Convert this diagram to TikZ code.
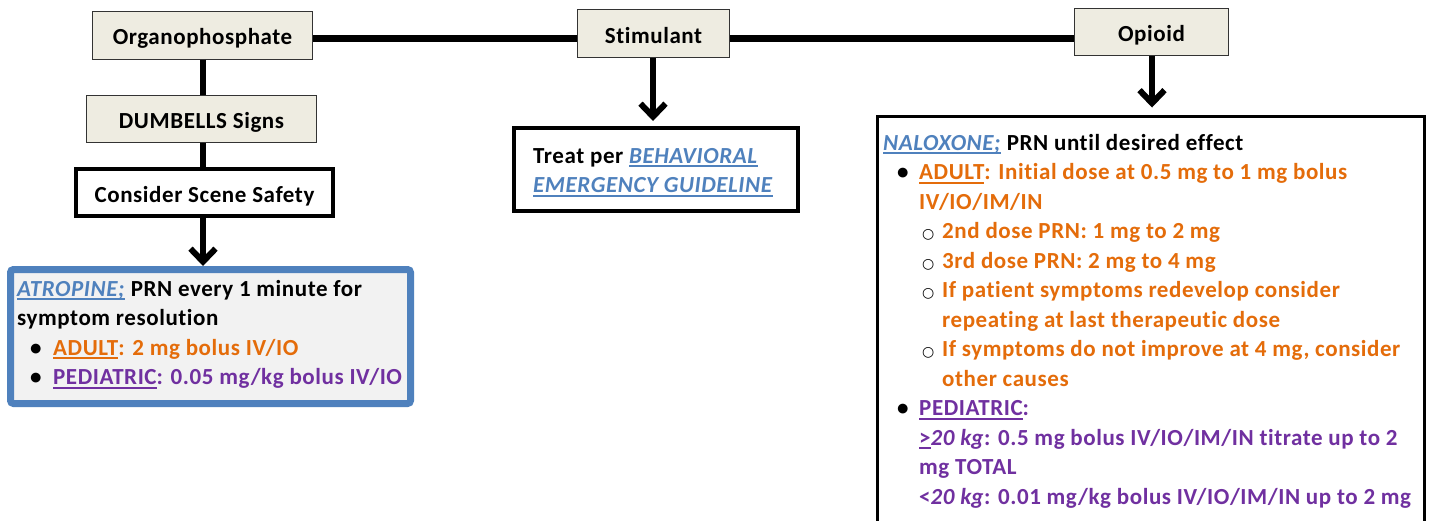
\documentclass[tikz,border=0pt]{standalone}
\usepackage{fontspec}
\setmainfont{Carlito}[LetterSpace=2.5,Ligatures=CommonOff]
\newfontfamily\shapefont{DejaVu Sans}
\usetikzlibrary{arrows.meta,calc}

\definecolor{linkblue}{HTML}{4F81BD}
\definecolor{doseorange}{HTML}{E46C0A}
\definecolor{pedpurple}{HTML}{7030A0}
\definecolor{headfill}{HTML}{EEECE1}
\definecolor{panelfill}{HTML}{F2F2F2}

% underline drawn as a rule under the measured text
\newsavebox{\ulbox}
\newcommand{\uln}[1]{\sbox{\ulbox}{#1}\rlap{\rule[-3.8pt]{\wd\ulbox}{1.7pt}}\usebox{\ulbox}}
\newcommand{\lnk}[1]{\textcolor{linkblue}{\uln{\textit{#1}}}}
\newcommand{\fbul}[1]{\makebox[#1][l]{\textbullet}}
\newcommand{\hbul}{\makebox[20pt][l]{\textcolor{black}{\shapefont\mdseries\fontsize{14}{14}\selectfont ○}}}
\newcommand{\firstline}{\rule{0pt}{20pt}}

\begin{document}
\begin{tikzpicture}[x=1pt,y=-1pt,
  font=\bfseries\fontsize{23}{29.5}\selectfont,
  headbox/.style={draw=black!80,line width=1pt,fill=headfill,inner sep=0pt,
    text height=19pt,text depth=0pt,font=\bfseries\fontsize{23}{29.5}\selectfont},
  stepbox/.style={draw=black,line width=4pt,fill=white,inner sep=0pt},
  conn/.style={line width=6pt},
  arr/.style={line width=6pt,-{Straight Barb[length=13pt,width=25pt,line width=6pt]}},
  bodytext/.style={anchor=north west,align=left,inner sep=0pt}
]
\useasboundingbox (0,0) rectangle (1431,520);
\fill[white] (0,0) rectangle (1431,520);
\clip (0,0) rectangle (1431,520);

% header boxes
\node[headbox,minimum width=220pt,minimum height=48pt] (org) at (202.5,35) {Organophosphate};
\node[headbox,minimum width=152pt,minimum height=48pt] (stim) at (653.5,33.5) {Stimulant};
\node[headbox,minimum width=154pt,minimum height=47pt] (opi) at (1151.5,32) {Opioid};

% organophosphate branch
\node[headbox,minimum width=230pt,minimum height=47pt] (dum) at (201.5,119) {DUMBELLS Signs};
\node[stepbox,minimum width=257pt,minimum height=47pt,text height=19pt,text depth=0pt] (safe) at (204.5,192.5) {Consider Scene Safety};

\node[draw=linkblue,line width=7pt,fill=panelfill,rounded corners=3pt,inner sep=0pt,
  minimum width=400pt,minimum height=134pt] (atro) at (210.5,336.5) {};
\node[bodytext] (atrotext) at (17,276) {%
\firstline\lnk{ATROPINE;} PRN every 1 minute for\\
symptom resolution\\
\hspace*{13pt}\fbul{23pt}\textcolor{doseorange}{\uln{ADULT}: 2 mg bolus IV/IO}\\
\hspace*{13pt}\fbul{23pt}\textcolor{pedpurple}{\uln{PEDIATRIC}: 0.05 mg/kg bolus IV/IO}};

% stimulant branch
\node[stepbox,minimum width=284pt,minimum height=83pt] (beh) at (656,169.5) {};
\node[bodytext] (behtext) at (533,143) {%
\firstline Treat per \lnk{BEHAVIORAL}\\
\lnk{EMERGENCY GUIDELINE}};

% opioid branch
\node[stepbox,line width=3.5pt,minimum width=547pt,minimum height=420pt,anchor=north] (nal) at (1151,114.5) {};
\node[bodytext] (naltext) at (883,130) {%
\firstline\lnk{NALOXONE;} PRN until desired effect\\
\hspace*{14pt}\fbul{22pt}\textcolor{doseorange}{\uln{ADULT}: Initial dose at 0.5 mg to 1 mg bolus}\\
\hspace*{36pt}\textcolor{doseorange}{IV/IO/IM/IN}\\
\hspace*{39pt}\hbul\textcolor{doseorange}{2nd dose PRN: 1 mg to 2 mg}\\
\hspace*{39pt}\hbul\textcolor{doseorange}{3rd dose PRN: 2 mg to 4 mg}\\
\hspace*{39pt}\hbul\textcolor{doseorange}{If patient symptoms redevelop consider}\\
\hspace*{59pt}\textcolor{doseorange}{repeating at last therapeutic dose}\\
\hspace*{39pt}\hbul\textcolor{doseorange}{If symptoms do not improve at 4 mg, consider}\\
\hspace*{59pt}\textcolor{doseorange}{other causes}\\
\hspace*{14pt}\fbul{22pt}\textcolor{pedpurple}{\uln{PEDIATRIC}:}\\
\hspace*{36pt}\textcolor{pedpurple}{\uln{>}\textit{20 kg}: 0.5 mg bolus IV/IO/IM/IN titrate up to 2}\\
\hspace*{36pt}\textcolor{pedpurple}{mg TOTAL}\\
\hspace*{36pt}\textcolor{pedpurple}{<\textit{20 kg}: 0.01 mg/kg bolus IV/IO/IM/IN up to 2 mg}};

% connectors
\coordinate (rail) at (0,38);
\draw[line width=7pt] (org.east |- rail) -- (stim.west |- rail);
\draw[line width=7pt] (stim.east |- rail) -- (opi.west |- rail);
\draw[conn] (org.south -| 203,0) -- (dum.north -| 203,0);
\draw[conn] (dum.south -| 203,0) -- (safe.north -| 203,0);
\draw[arr] (safe.south -| 203,0) -- (atro.north -| 203,0);
\draw[arr,shorten >=5pt] (stim.south -| 653,0) -- (beh.north -| 653,0);
\draw[arr,shorten >=7pt] (opi.south -| 1152,0) -- (nal.north -| 1152,0);
\end{tikzpicture}
\end{document}
